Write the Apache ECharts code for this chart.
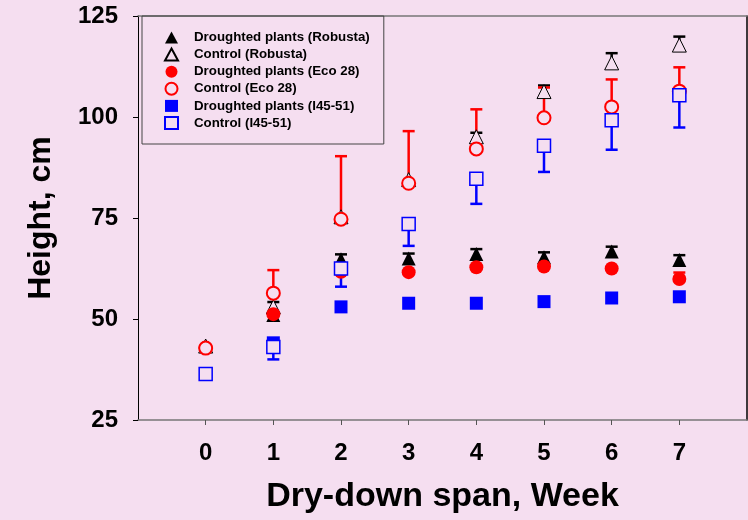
<!DOCTYPE html>
<html>
<head>
<meta charset="utf-8">
<script src="https://cdn.jsdelivr.net/npm/echarts@6/dist/echarts.min.js"></script>
<style>
html, body { margin: 0; padding: 0; background: #F5DEF0; }
#chart { width: 748px; height: 520px; }
</style>
</head>
<body>
<div id="chart"></div>
<script>
// weeks of dry-down
const weeks = [0, 1, 2, 3, 4, 5, 6, 7];
const yTicks = [25, 50, 75, 100, 125];

// plant height, cm
const droughtRobusta = [43.3, 51, 64.8, 65, 66.1, 65.3, 66.7, 64.6];
const droughtRobustaErr = [0, 0, 1.2, 1.2, 1.2, 1.2, 1.2, 1.2];
const controlRobusta = [43.3, 53, 75.3, 84.5, 95.1, 106.3, 113.4, 117.8];
const controlRobustaErr = [0, 1.2, 0, 0, 1.0, 1.5, 2.4, 2.1];
const droughtEco = [42.8, 51.2, 61.7, 61.6, 62.8, 63, 62.5, 59.9];
const droughtEcoErr = [0, 0, 0, 0, 0, 0.6, 0, 1.6];
const controlEco = [42.8, 56.4, 74.7, 83.6, 92.1, 99.8, 102.5, 106.4];
const controlEcoErr = [0, 5.7, 15.6, 12.9, 9.8, 7.5, 6.8, 5.9];
const droughtI45 = [36.4, 44.1, 53, 53.9, 53.9, 54.3, 55.2, 55.5];
const controlI45 = [36.4, 43.1, 62.5, 73.5, 84.7, 92.9, 99.2, 105.4];
const controlI45Err = [0, 3.1, 4.5, 5.4, 6.2, 6.5, 7.3, 8.0]; // downward

const bg = '#F5DEF0';
const font = "'Liberation Sans', Arial, sans-serif";

function errBars(values, errs, dir, color, width) {
  return {
    type: 'custom',
    silent: true,
    data: weeks.map((w, i) => [w, values[i], errs[i]]),
    encode: { x: 0, y: 1 },
    renderItem(params, api) {
      const x = api.value(0), y = api.value(1), e = api.value(2);
      if (!e) return null;
      const p0 = api.coord([x, y]);
      const p1 = api.coord([x, y + dir * e]);
      const hw = 6;
      return {
        type: 'group',
        children: [
          { type: 'line', shape: { x1: p0[0], y1: p0[1], x2: p1[0], y2: p1[1] }, style: { stroke: color, lineWidth: width } },
          { type: 'line', shape: { x1: p1[0] - hw, y1: p1[1], x2: p1[0] + hw, y2: p1[1] }, style: { stroke: color, lineWidth: width } }
        ]
      };
    }
  };
}

function dots(name, values, symbol, size, itemStyle) {
  return {
    type: 'scatter',
    name: name,
    symbol: symbol,
    symbolSize: size,
    data: weeks.map((w, i) => [w, values[i]]),
    itemStyle: Object.assign({ opacity: 1 }, itemStyle)
  };
}

const names = [
  'Droughted plants (Robusta)', 'Control (Robusta)',
  'Droughted plants (Eco 28)', 'Control (Eco 28)',
  'Droughted plants (I45-51)', 'Control (I45-51)'
];

const option = {
  backgroundColor: bg,
  animation: false,
  grid: { left: 138, right: 1, top: 16, bottom: 100 },
  legend: {
    data: names,
    orient: 'vertical',
    left: 142,
    top: 16,
    borderColor: '#444',
    borderWidth: 1,
    padding: [15, 14, 14, 22],
    itemWidth: 13,
    itemHeight: 12,
    itemGap: 3.6,
    textStyle: { fontFamily: font, fontWeight: 'bold', fontSize: 13.3, lineHeight: 13, color: '#000', padding: [0, 0, 0, 11] }
  },
  xAxis: [{
    type: 'value',
    min: -1, max: 8, interval: 1,
    name: 'Dry-down span, Week',
    nameLocation: 'middle',
    nameGap: 60,
    nameTextStyle: { fontFamily: font, fontWeight: 'bold', fontSize: 34, color: '#000' },
    axisLine: { lineStyle: { color: '#777', width: 1.5 } },
    axisTick: { customValues: weeks, length: 5, lineStyle: { color: '#555' } },
    axisLabel: { customValues: weeks, fontFamily: font, fontWeight: 'bold', fontSize: 24, color: '#000', margin: 21 },
    splitLine: { show: false }
  }, {
    type: 'value',
    position: 'top',
    min: -1, max: 8,
    axisLine: { show: true, lineStyle: { color: '#777', width: 1.5 } },
    axisTick: { show: false },
    axisLabel: { show: false },
    splitLine: { show: false }
  }],
  yAxis: [{
    type: 'value',
    min: 25, max: 125, interval: 25,
    name: 'Height, cm',
    nameLocation: 'middle',
    nameGap: 81,
    nameTextStyle: { fontFamily: font, fontWeight: 'bold', fontSize: 32, color: '#000' },
    axisLine: { show: true, onZero: false, lineStyle: { color: '#000', width: 1 } },
    axisTick: { show: true, length: 5, lineStyle: { color: '#000' } },
    axisLabel: { customValues: yTicks, fontFamily: font, fontWeight: 'bold', fontSize: 24, color: '#000', margin: 20 },
    splitLine: { show: false }
  }, {
    type: 'value',
    position: 'right',
    min: 25, max: 125,
    axisLine: { show: true, onZero: false, lineStyle: { color: '#000', width: 1.5 } },
    axisTick: { show: false },
    axisLabel: { show: false },
    splitLine: { show: false }
  }],
  series: [
    errBars(droughtRobusta, droughtRobustaErr, 1, '#000', 2.5),
    dots(names[0], droughtRobusta, 'triangle', 14, { color: '#000' }),
    errBars(controlRobusta, controlRobustaErr, 1, '#000', 2.5),
    dots(names[1], controlRobusta, 'triangle', 14, { color: bg, borderColor: '#000', borderWidth: 1 }),
    errBars(droughtEco, droughtEcoErr, 1, '#f00', 2.5),
    dots(names[2], droughtEco, 'circle', 14, { color: '#f00' }),
    errBars(controlEco, controlEcoErr, 1, '#f00', 2.5),
    dots(names[3], controlEco, 'circle', 13, { color: bg, borderColor: '#f00', borderWidth: 2 }),
    dots(names[4], droughtI45, 'rect', 13, { color: '#00f' }),
    errBars(controlI45, controlI45Err, -1, '#00f', 2.5),
    dots(names[5], controlI45, 'rect', 13, { color: bg, borderColor: '#00f', borderWidth: 1.5 })
  ]
};

echarts.init(document.getElementById('chart')).setOption(option);
</script>
</body>
</html>
